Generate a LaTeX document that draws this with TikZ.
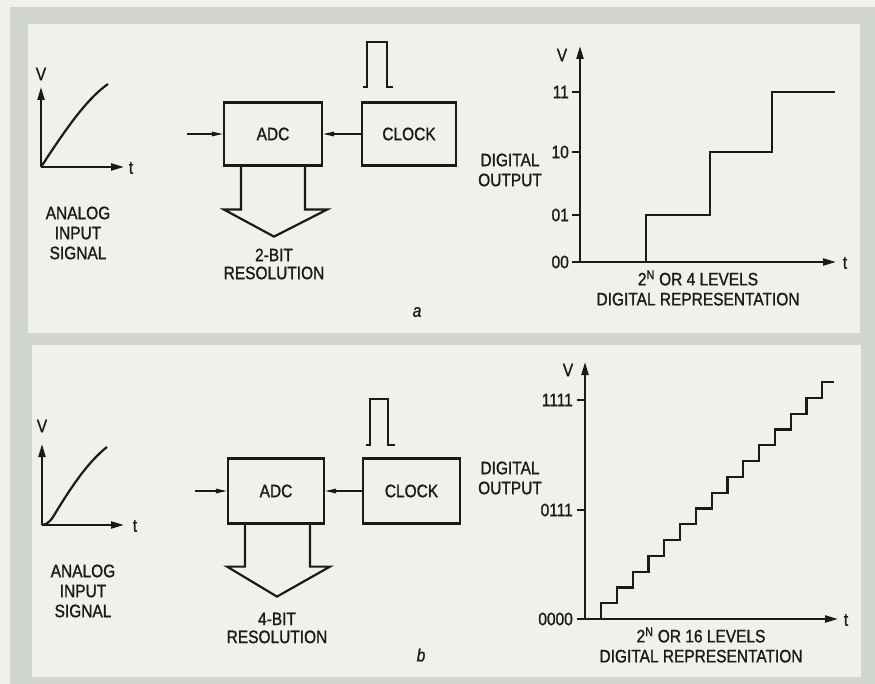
\documentclass[tikz,border=0pt]{standalone}
\usepackage{fontspec}
\setmainfont{Liberation Sans}[FakeStretch=0.86,FakeBold=1.2]
\usetikzlibrary{arrows.meta}
\definecolor{paper}{HTML}{F1F0EA}
\definecolor{band}{HTML}{D0D6CE}
\definecolor{ink}{HTML}{1A1A1A}

\begin{document}
\begin{tikzpicture}[x=1pt,y=-1pt,
  every node/.style={text=ink,font=\fontsize{18}{20}\selectfont,inner sep=0pt},
  blk/.style={draw=ink,line width=2.2pt,minimum height=63pt},
  lbl/.style={align=center},
  axis/.style={draw=ink,line width=2.2pt,-{Triangle[length=13pt,width=7pt]}},
  feed/.style={draw=ink,line width=1.3pt,-{Triangle[length=11pt,width=4.5pt]}},
  wave/.style={draw=ink,line width=2.2pt},
  fat/.style={draw=ink,line width=2.2pt,line join=miter}]
\useasboundingbox (0,0) rectangle (875,684);
\fill[paper] (0,0) rectangle (875,684);
\fill[band] (10,7) rectangle (875,684);
\fill[paper] (28,24) rectangle (860,333);
\fill[paper] (32,345) rectangle (861,677);
% panel a
\coordinate (oA) at (41,167);
\coordinate (vA) at (41,87);
\coordinate (tA) at (124,167);
\draw[axis] (oA) -- (vA);
\draw[axis] (oA) -- (tA);
\draw[wave] (oA) .. controls (62,135) and (85,100) .. (108,84);
\node (vlabA) at (41,74) {V};
\node (tlabA) at (131,168) {t};
\node[lbl] (analogA) at (78,233) {ANALOG\\INPUT\\SIGNAL};
\node[blk,minimum width=98pt] (adcA) at (273,134) {ADC};
\node[blk,minimum width=94pt] (clkA) at (409,134) {CLOCK};
\coordinate (inA) at (187,134);
\draw[feed] (inA) -- (adcA);
\draw[feed] (clkA) -- (adcA);
\draw[wave] (363,87) -- (367,87) -- (367,42) -- (387,42) -- (387,87) -- (393,87);
\draw[fat] ([shift={(-32,0)}]adcA.south) -- ++(0,43) -- ++(-17,0) -- ++(50,27)
  -- ++(53,-27) -- ++(-22,0) -- ++(0,-43);
\node[lbl,font=\fontsize{18}{18}\selectfont] (bitsA) at (274,264) {2-BIT\\RESOLUTION};
\node[font=\fontsize{18}{20}\selectfont\itshape] (capA) at (417,312) {a};
\coordinate (dA) at (580,262);
\coordinate (dAv) at (580,46);
\coordinate (dAt) at (836,262);
\draw[axis] (dA) -- (dAv);
\draw[axis] (dA) -- (dAt);
\node (vlabA2) at (562,55) {V};
\node (tlabA2) at (845,263) {t};
\foreach \yy/\code in {92/11,152/10,215/01,262/00}{
  \draw[wave] (572,\yy) -- (580,\yy);
  \node[anchor=east] (lvA\code) at (569,\yy) {\code};
}
\draw[wave] (646,262) |- (710,215) |- (772,152) |- (835,92);
\node[lbl] (outA) at (510,170) {DIGITAL\\OUTPUT};
\node[lbl] (repA) at (698,288) {2\textsuperscript{N} OR 4 LEVELS\\DIGITAL REPRESENTATION};
% panel b
\coordinate (oB) at (42,525);
\coordinate (vB) at (42,444);
\coordinate (tB) at (124,525);
\draw[axis] (oB) -- (vB);
\draw[axis] (oB) -- (tB);
\draw[wave] (oB) .. controls (48,525) and (52,519) .. (56,512)
  .. controls (72,486) and (88,462) .. (107,447);
\node (vlabB) at (42,426) {V};
\node (tlabB) at (135,526) {t};
\node[lbl] (analogB) at (83,591) {ANALOG\\INPUT\\SIGNAL};
\node[blk,minimum width=96pt,minimum height=65pt] (adcB) at (276,491) {ADC};
\node[blk,minimum width=97pt,minimum height=65pt] (clkB) at (411.5,491) {CLOCK};
\coordinate (inB) at (195,491);
\draw[feed] (inB) -- (adcB);
\draw[feed] (clkB) -- (adcB);
\draw[wave] (366,445) -- (370,445) -- (370,399) -- (388,399) -- (388,445) -- (395,445);
\draw[fat] ([shift={(-31,0)}]adcB.south) -- ++(0,42) -- ++(-18,0) -- ++(50,30)
  -- ++(53,-30) -- ++(-20,0) -- ++(0,-42);
\node[lbl,font=\fontsize{18}{18}\selectfont] (bitsB) at (277,628) {4-BIT\\RESOLUTION};
\node[font=\fontsize{18}{20}\selectfont\itshape] (capB) at (421,655) {b};
\coordinate (dB) at (585,619);
\coordinate (dBv) at (585,362);
\coordinate (dBt) at (838,619);
\draw[axis] (dB) -- (dBv);
\draw[axis] (dB) -- (dBt);
\node (vlabB2) at (568,370) {V};
\node (tlabB2) at (846,620) {t};
\foreach \yy/\code in {400/1111,510/0111,619/0000}{
  \draw[wave] (577,\yy) -- (585,\yy);
  \node[anchor=east] (lvB\code) at (573,\yy) {\code};
}
\draw[wave] (601,619) \foreach \k in {1,...,14}{ |- ++(15.8,-15.8) } |- (834,382);
\node[lbl] (outB) at (510,478) {DIGITAL\\OUTPUT};
\node[lbl] (repB) at (701,645) {2\textsuperscript{N} OR 16 LEVELS\\DIGITAL REPRESENTATION};
\end{tikzpicture}
\end{document}
